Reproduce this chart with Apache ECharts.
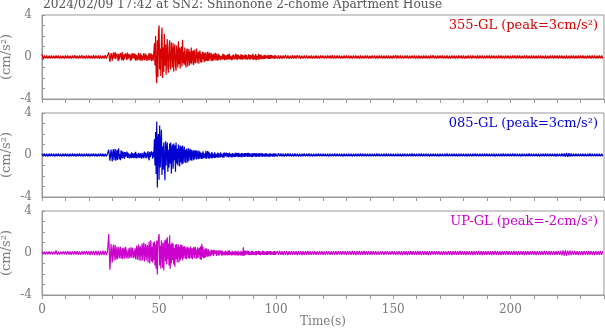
<!DOCTYPE html>
<html><head><meta charset="utf-8">
<script src="https://cdn.jsdelivr.net/npm/echarts@6/dist/echarts.min.js"></script>
<style>html,body{margin:0;padding:0;background:#fff}#c{width:605px;height:334px}</style>
</head><body><div id="c"></div>
<script>
const titleText = '2024/02/09 17:42 at SN2: Shinonone 2-chome Apartment House';
const channelLabels = ['355-GL (peak=3cm/s²)', '085-GL (peak=3cm/s²)', 'UP-GL (peak=-2cm/s²)'];
const xTickLabels = [0, 50, 100, 150, 200];
const yTickLabels = [-4, 0, 4];
const xName = 'Time(s)';
const yName = '(cm/s²)';
// acceleration (cm/s²); one row per 10 s window, samples evenly spaced in the row
const acc355 = [
[.3,-.25,.15,-.13,.14,-.15,.12,-.14,.15,-.12,.13,-.15,.14,-.12,.15,-.14,.12,-.15,.13,-.14],
[.14,-.12,.15,-.14,.13,-.15,.14,-.12,.16,-.14,.13,-.15,.14,-.13,.16,-.14,.13,-.15,.14,-.13],
[.15,-.14,.13,-.15,.16,-.14,.15,-.13,.14,-.16,.15,-.14,.13,-.15,.16,-.14,.15,.44,-.46,.38],
[-.36,.2,.42,-.15,-.3,.46,-.2,-.38,.32,.1,-.41,.3,-.25,-.44,.36,.15,-.3,.48,-.1,-.35,
 .3,-.2,-.38,.34,.1,-.3,.42,-.18,-.33,.3,.2,-.36,.25,-.3,.38,-.12,-.28,.35,-.2,.3],
[-.36,.2,.3,-.33,.15,.4,-.3,-.1,.35,-.38,.2,.3,-.32,.1,.36,-.3,-.2,.33,-.35,.15,.3,-.34,.1,.38,-.3,-.15,.35,-.4,.25,.3,-.36,.45,
 1.3,-.8,2.0,-1.5,-2.5,1.6,-1.9,2.4],
[3.0,-1.2,.8,-1.8,1.5,2.8,-2.0,.9,-1.4,2.2,-.8,1.2,-1.7,.6,1.7,-1.1,-1.5,1.0,1.6,-.9,
 -1.2,1.4,.5,-1.0,1.3,-1.4,.7,1.2,-.8,-1.3,1.1,.4,-1.0,1.5,-.7,.9,-1.1,.6,1.0,-.9],
[1.65,-.6,.5,-.75,.9,-.4,-1.0,.6,.8,-.9,.3,.75,-.8,.5,-.6,.9,-.7,.4,.6,-.75,
 .7,-.3,-.6,.55,.8,-.58,.2,.5,-.65,.4,.6,-.5,.3,-.55,.5,-.2,.45,-.5,.35,-.4],
[.45,-.2,-.4,.5,-.38,.2,.42,-.35,.1,.4,-.4,.25,-.35,.3,-.3,.15,.4,-.32,.3,-.1,
 -.35,.32,-.28,.2,.3,-.3,.1,.28,-.25,.3,-.2,.25,-.3,.15,.28,-.26,.2,-.22,.25,-.2],
[.3,-.25,.1,.28,-.3,.15,-.25,.22,.25,-.22,.1,.3,-.25,.2,-.26,.22,.25,-.2,.1,-.22,
 .28,-.22,.2,-.25,.15,.22,-.2,.25,-.22,.18,.28,-.24,-.1,.26,-.22,.2,-.24,.18,.22,-.2],
[.3,-.28,.15,.32,-.25,.28,-.3,.1,.25,-.22,.3,-.26,.2,-.18,.22,-.2,.12,.18,-.2,.17,
 -.18,.2,-.16,.12,.18,-.15,.2,-.18,.16,-.17,.18,-.14,.17,-.16,.12,.18,-.15,.16,-.17,.15],
[.17,-.15,.16,-.17,.14,-.16,.15,-.14,.18,-.15,.14,-.16,.13,-.15,.17,-.14,.15,-.14,.16,-.13],
[.14,-.16,.13,-.15,.15,-.13,.14,-.15,.13,-.14,.15,-.14,.13,-.14,.14,-.15,.13,-.14,.14,-.13],
[.14,-.15,.13,-.14,.15,-.13,.14,-.15,.16,-.14,.13,-.14,.15,-.13,.14,-.15,.13,-.14,.14,-.13],
[.14,-.13,.15,-.14,.13,-.15,.14,-.13,.15,-.14,.13,-.14,.14,-.15,.13,-.14,.15,-.13,.14,-.14],
[.13,-.14,.14,-.13,.15,-.14,.13,-.15,.14,-.13,.14,-.14,.13,-.15,.14,-.13,.15,-.14,.13,-.14],
[.14,-.13,.16,-.15,.14,-.13,.15,-.14,.13,-.14,.14,-.13,.15,-.14,.13,-.15,.14,-.13,.14,-.14],
[.13,-.14,.14,-.15,.13,-.14,.15,-.13,.14,-.14,.13,-.15,.14,-.13,.16,-.14,.13,-.14,.15,-.13],
[.14,-.13,.15,-.14,.13,-.14,.14,-.15,.13,-.14,.15,-.13,.14,-.14,.13,-.15,.14,-.13,.14,-.14],
[.15,-.14,.13,-.14,.14,-.13,.15,-.14,.14,-.13,.13,-.14,.15,-.14,.14,-.13,.14,-.15,.13,-.14],
[.14,-.13,.14,-.14,.15,-.13,.14,-.14,.13,-.15,.14,-.13,.15,-.14,.13,-.14,.14,-.13,.15,-.14],
[.13,-.14,.14,-.13,.15,-.14,.14,-.13,.14,-.15,.13,-.14,.14,-.13,.15,-.14,.13,-.14,.14,-.13],
[.14,-.15,.13,-.14,.14,-.13,.15,-.14,.13,-.14,.14,-.15,.13,-.14,.14,-.13,.15,-.14,.14,-.13],
[.15,-.14,.14,-.13,.14,-.14,.13,-.15,.14,-.14,.13,-.14,.15,-.13,.14,-.14,.13,-.15,.14,-.13],
[.14,-.13,.15,-.14,.13,-.14,.14,-.13,.15,-.14,.14,-.13,.14,-.15,.13,-.14,.14,-.13,.15,-.14]
];
const acc085 = [
[.13,-.12,.14,-.13,.12,-.14,.13,-.12,.14,-.13,.12,-.14,.13,-.12,.14,-.13,.12,-.14,.13,-.12],
[.14,-.12,.13,-.14,.12,-.13,.14,-.12,.13,-.14,.12,-.13,.14,-.12,.13,-.14,.12,-.13,.14,-.12],
[.13,-.14,.12,-.13,.14,-.12,.13,-.14,.12,-.13,.14,-.12,.13,-.14,.12,-.13,.14,.5,-.55,.52],
[-.62,.3,.55,-.5,.2,.58,-.55,-.2,.5,-.48,.35,.62,-.4,.1,-.5,.45,
 -.3,.35,-.32,.1,.3,-.35,.28,-.15,-.3,.32,-.28,.2,.3,-.33,.1,.27,-.3,.25,-.28,.15,.3,-.3,.2,-.25],
[.3,-.32,.1,.28,-.3,.2,.33,-.28,.15,.3,-.35,.2,.27,-.3,.1,.32,-.3,.22,.3,-.3,.15,.35,-.25,-.5,
 .3,-.2,-.3,.35,.1,-.35,.3,-.2,
 1.5,-1.0,2.2,-1.8,3.2,-3.1,1.5,2.0],
[-2.35,2.8,-1.2,1.0,2.4,-1.9,.8,-1.4,1.2,-.6,-2.4,1.3,-1.0,.7,1.2,-1.6,.5,-1.2,1.1,-.8,
 1.2,-1.77,.6,1.0,-1.3,1.1,-.5,.9,-1.6,1.2,-.8,.6,-1.0,1.0,.4,-1.1,.9,-.7,.8,-.9],
[.9,-.8,.3,.8,-.7,.5,-.75,.6,.2,-.7,.65,-.55,.3,.6,-.5,.5,-.55,.2,.45,-.5,
 .45,-.4,.2,.45,-.42,.4,-.1,-.4,.42,-.35,.3,.4,-.38,.2,-.35,.36,-.3,.15,.34,-.32],
[.4,-.35,.1,.38,-.33,.3,-.35,.15,.32,-.3,.28,-.3,.12,.3,-.27,.25,-.28,.1,.26,-.25,
 .24,-.26,.15,.22,-.24,.25,-.2,.1,.22,-.25,.2,-.22,.24,-.12,-.2,.22,-.21,.18,.2,-.22],
[.22,-.19,.1,.2,-.22,.19,-.2,.12,.22,-.19,.2,-.18,.2,-.1,.18,-.2,.2,-.18,.12,.2,
 -.19,.18,-.2,.17,.1,-.18,.19,-.17,.18,-.12,.17,-.18,.2,-.16,.17,-.18,.12,.17,-.16,.18],
[-.17,.16,-.1,.17,-.16,.15,-.17,.16,.1,-.15,.16,-.17,.15,-.1,.16,-.15,.17,-.16,.1,.15,
 -.16,.15,-.14,.16,-.15,.1,.15,-.16,.14,-.15,.16,-.14,.1,.15,-.14,.15,-.16,.14,-.15,.14],
[.15,-.14,.16,-.13,.14,-.15,.13,-.14,.15,-.13,.14,-.13,.15,-.14,.13,-.15,.14,-.13,.13,-.14],
[.13,-.14,.12,-.13,.14,-.13,.13,-.12,.14,-.13,.12,-.14,.13,-.13,.12,-.13,.14,-.12,.13,-.13],
[.12,-.13,.13,-.12,.13,-.14,.12,-.13,.13,-.12,.14,-.13,.12,-.13,.13,-.12,.13,-.14,.12,-.13],
[.13,-.12,.13,-.13,.12,-.14,.13,-.12,.13,-.13,.12,-.13,.14,-.12,.13,-.13,.12,-.13,.13,-.12],
[.12,-.13,.13,-.12,.13,-.13,.14,-.12,.13,-.13,.12,-.13,.13,-.12,.14,-.13,.12,-.13,.13,-.12],
[.13,-.12,.12,-.13,.13,-.13,.12,-.14,.13,-.12,.13,-.13,.12,-.13,.13,-.12,.14,-.13,.12,-.13],
[.12,-.13,.13,-.12,.14,-.13,.12,-.13,.13,-.12,.13,-.14,.12,-.13,.13,-.12,.13,-.13,.12,-.14],
[.13,-.12,.13,-.13,.12,-.13,.14,-.12,.13,-.13,.12,-.13,.13,-.12,.13,-.14,.12,-.13,.13,-.12],
[.13,-.13,.12,-.14,.13,-.12,.13,-.13,.12,-.13,.14,-.12,.13,-.13,.12,-.13,.13,-.12,.14,-.13],
[.12,-.13,.13,-.12,.13,-.13,.12,-.14,.13,-.12,.13,-.13,.12,-.13,.14,-.12,.13,-.13,.12,-.13],
[.13,-.12,.14,-.13,.12,-.13,.13,-.12,.13,-.14,.12,-.13,.13,-.12,.13,-.13,.14,-.12,.13,-.13],
[.12,-.13,.13,-.12,.13,-.14,.12,-.13,.13,-.12,.14,-.13,.12,-.13,.13,-.12,.13,-.13,.12,-.14],
[.13,-.12,.13,-.13,.14,-.13,.15,-.16,.19,-.18,.17,-.15,.14,-.13,.13,-.12,.13,-.13,.12,-.13],
[.13,-.12,.13,-.13,.12,-.13,.13,-.12,.14,-.13,.12,-.13,.13,-.12,.13,-.13,.12,-.13,.13,-.12]
];
const accUP = [
[.14,-.13,.12,-.14,.13,-.12,.14,-.13,.12,-.14,.13,-.12,.24,-.16,.13,-.14,.12,-.13,.14,-.12],
[.15,-.14,.16,-.15,.14,-.16,.15,-.14,.17,-.15,.16,-.16,.15,-.17,.16,-.15,.17,-.16,.18,-.16],
[.18,-.19,.2,-.18,.19,-.2,.21,-.19,.2,-.22,.19,-.21,.22,-.2,.21,-.19,.2,1.8,-1.6,.85],
[-.9,.4,.8,-.7,.2,.75,-.65,-.3,.6,-.6,.3,.55,-.5,.1,.6,-.55,-.2,.5,-.6,.3,
 .5,-.55,.15,.6,-.5,.3,.45,-.55,.2,.5,-.5,-.1,.55,-.45,.3,.5,-.5,.2,-.4,.45],
[-.6,.3,.7,-.65,.2,.8,-.7,.4,.65,-.75,.2,.9,-.7,.5,1.0,-.8,.3,.85,-.7,.4,.75,-.9,.2,1.1,
 -1.0,.5,1.2,-.8,.6,-.9,1.0,-.7,
 1.1,-1.2,.8,-1.5,1.2,-2.05,.9,1.4],
[1.8,-1.2,.7,-1.5,1.2,.5,-1.4,1.0,-1.65,.6,1.2,-.8,1.3,-1.1,1.5,-.6,.9,-1.2,1.7,-1.5,
 .8,-1.0,1.0,-.7,.9,-1.1,.5,-1.3,.8,-.6,.85,-.9,.4,.8,-.9,.6,-.7,.8,-.5,.75],
[-.7,.6,-.5,.65,.2,-.55,.6,-.6,.3,.55,-.5,.5,-.55,.2,.6,-.5,.45,-.6,.3,.55,
 -.5,.4,.6,-.55,.3,-.5,.55,-.45,.2,.5,-.6,.65,-.67,.87,-.4,.6,-.5,.3,-.45,.45],
[-.4,.42,-.1,-.35,.38,-.33,.2,.35,-.3,.32,-.15,-.3,.28,-.27,.3,-.1,-.26,.25,-.27,.24,
 .1,-.22,.25,-.24,.22,-.12,.22,-.22,.2,-.24,.1,.22,-.2,.23,-.22,.15,.2,-.21,.22,-.2],
[.22,-.21,.1,.2,-.22,.21,-.2,.12,.22,-.2,.21,-.22,.15,.2,-.21,.2,-.22,.1,.2,-.21,
 .2,-.22,.1,-.25,.55,-.25,.2,-.2,.22,-.12,-.2,.21,-.19,.2,-.21,.1,.19,-.2,.21,-.19],
[.2,-.19,.1,.21,-.2,.18,-.2,.19,-.1,-.18,.2,-.19,.18,-.2,.1,.19,-.18,.2,-.17,.19,
 -.18,.1,.17,-.19,.18,-.17,.19,-.1,-.18,.17,-.19,.18,-.16,.1,.18,-.17,.19,-.18,.17,-.16],
[-.19,.18,-.17,.19,-.18,.17,-.19,.18,-.17,.18,-.19,.17,-.18,.19,-.17,.18,-.18,.17,-.19,.18],
[-.17,.18,-.19,.17,-.18,.17,-.17,.19,-.18,.17,-.18,.16,-.17,.18,-.17,.16,-.18,.17,-.16,.17],
[-.17,.16,-.18,.17,-.16,.18,-.17,.16,-.17,.18,-.16,.17,-.18,.17,-.16,.17,-.17,.18,-.16,.17],
[-.18,.17,-.16,.17,-.18,.19,-.17,.18,-.19,.18,-.17,.19,-.18,.17,-.18,.19,-.17,.18,-.17,.18],
[-.17,.18,-.18,.17,-.16,.17,-.18,.16,-.17,.16,-.15,.16,-.17,.16,-.15,.17,-.16,.15,-.16,.17],
[-.15,.16,-.17,.15,-.16,.17,-.18,.17,-.19,.18,-.17,.18,-.19,.18,-.17,.19,-.18,.17,-.18,.17],
[-.18,.19,-.17,.18,-.19,.18,-.17,.18,-.18,.17,-.19,.18,-.17,.18,-.16,.17,-.18,.17,-.16,.17],
[-.17,.16,-.17,.18,-.17,.16,-.18,.17,-.17,.18,-.19,.18,-.17,.19,-.18,.17,-.18,.19,-.17,.18],
[-.18,.17,-.19,.18,-.17,.18,-.18,.17,-.19,.18,-.17,.18,-.18,.19,-.17,.18,-.19,.17,-.18,.17],
[-.17,.18,-.18,.17,-.19,.18,-.17,.19,-.18,.17,-.18,.17,-.19,.18,-.17,.18,-.18,.19,-.17,.18],
[-.18,.17,-.18,.19,-.17,.18,-.19,.17,-.18,.17,-.17,.18,-.19,.18,-.17,.18,-.18,.17,-.18,.19],
[-.17,.18,-.19,.18,-.17,.18,-.18,.17,-.18,.19,-.17,.18,-.17,.18,-.19,.18,-.18,.17,-.18,.17],
[-.18,.19,-.18,.21,-.23,.25,-.26,.24,-.25,.23,-.21,.22,-.2,.19,-.18,.19,-.18,.17,-.19,.18],
[-.17,.18,-.19,.18,-.17,.18,-.18,.19,-.17,.18,-.18,.17,-.19,.18,-.17,.18,-.18,.19,-.17,.18]
];

const colors = ['#d80000', '#0000d0', '#cc00cc'];
const seriesRows = [acc355, acc085, accUP];
const FONT = 'DejaVu Serif';
const GRAY = '#7a7a7a';
const tops = [15, 113, 211];
const H = 84;

function toPairs(rows) {
  const out = [];
  rows.forEach((row, r) => row.forEach((v, j) => out.push([r * 10 + j * 10 / row.length, v])));
  return out;
}

const chart = echarts.init(document.getElementById('c'), null, {renderer: 'canvas'});
const grid = [], xAxis = [], yAxis = [], series = [], graphic = [];
for (let i = 0; i < 3; i++) {
  grid.push({left: 42, right: 1, top: tops[i], height: H, containLabel: false, outerBoundsMode: 'none',
    show: true, borderColor: '#999', borderWidth: 1, backgroundColor: 'transparent'});
  xAxis.push({
    type: 'value', gridIndex: i, min: 0, max: 240, interval: 10,
    name: i === 2 ? xName : '', nameLocation: 'middle', nameGap: 21, nameMoveOverlap: false,
    nameTextStyle: {fontFamily: FONT, fontSize: 12, color: GRAY},
    axisLine: {show: true, onZero: false, lineStyle: {color: '#999', width: 1}},
    axisTick: {show: true, inside: false, length: 4, lineStyle: {color: '#999'}},
    axisLabel: {show: i === 2, margin: 9, fontFamily: FONT, fontSize: 12, color: GRAY,
      formatter: v => xTickLabels.includes(v) ? String(v) : ''},
    splitLine: {show: false}
  });
  yAxis.push({
    type: 'value', gridIndex: i, min: -4, max: 4, interval: 1,
    name: yName, nameLocation: 'middle', nameRotate: 90, nameGap: 29, nameMoveOverlap: false,
    nameTextStyle: {fontFamily: FONT, fontSize: 13, color: GRAY},
    axisLine: {show: true, lineStyle: {color: '#999', width: 1}},
    axisTick: {show: true, inside: true, length: 3, lineStyle: {color: '#999'}},
    axisLabel: {show: true, margin: 10, fontFamily: FONT, fontSize: 12, color: GRAY,
      formatter: v => yTickLabels.includes(v) ? String(v) : ''},
    splitLine: {show: false}
  });
  series.push({
    type: 'line', xAxisIndex: i, yAxisIndex: i, data: toPairs(seriesRows[i]),
    showSymbol: false, symbol: 'none', sampling: null, animation: false,
    lineStyle: {color: colors[i], width: 1.2}, itemStyle: {color: colors[i]}
  });
  graphic.push({
    type: 'text', x: 598, y: tops[i] + 11,
    style: {text: channelLabels[i], fill: colors[i], font: '13px "DejaVu Serif"', align: 'right', verticalAlign: 'middle'}
  });
}
graphic.push({
  type: 'text', x: 43, y: 5,
  style: {text: titleText, fill: '#555', font: '12.2px "DejaVu Serif"', align: 'left', verticalAlign: 'middle'}
});
chart.setOption({animation: false, backgroundColor: '#fff', grid, xAxis, yAxis, series, graphic});
</script></body></html>
